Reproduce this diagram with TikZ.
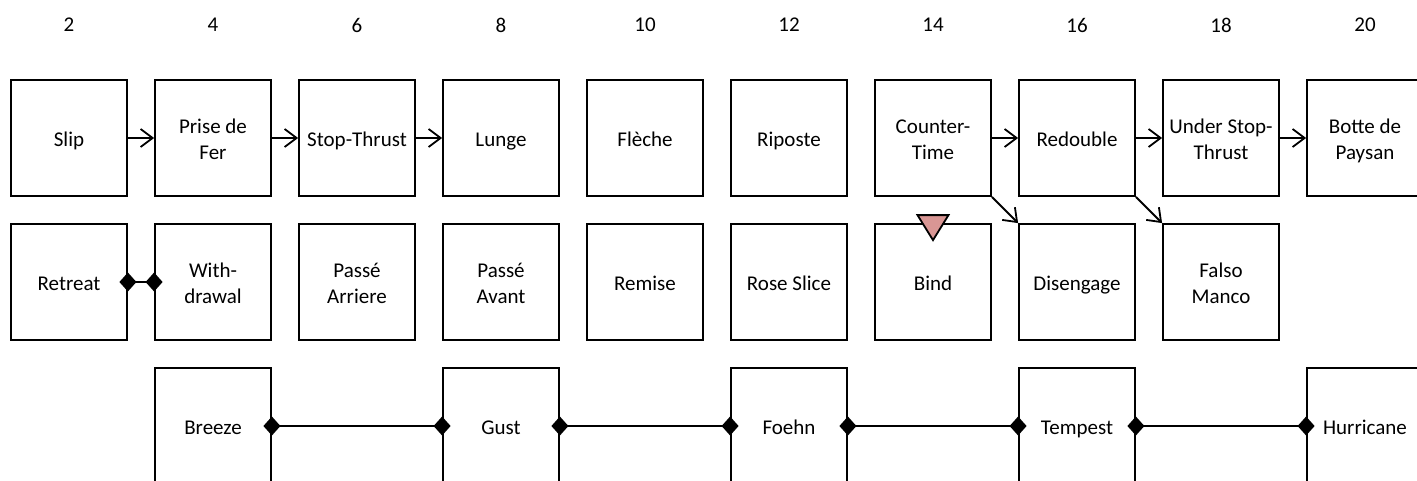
\documentclass[tikz,border=0pt]{standalone}
\usepackage{fontspec}
\setmainfont{Carlito}
\usetikzlibrary{arrows.meta}
\definecolor{tripink}{HTML}{D99694}
\newcommand{\tl}[1]{\rule[-4.5pt]{0pt}{25.5pt}#1}
\tikzset{
  box/.style={draw=black, line width=1.8pt, rectangle, minimum width=116pt, minimum height=116pt, inner sep=0pt, align=center, font=\fontsize{21}{25.5}\selectfont},
  num/.style={font=\fontsize{21}{25.5}\selectfont, inner sep=0pt},
  arr/.style={line width=1.8pt, -{Straight Barb[length=12pt,width=18pt,line width=1.8pt]}},
  dia/.style={line width=1.8pt, {Diamond[length=17pt,width=19pt]}-{Diamond[length=17pt,width=19pt]}, shorten <=-8.5pt, shorten >=-8.5pt},
}
\begin{document}
\begin{tikzpicture}[x=1pt,y=-1pt]
\useasboundingbox (0,0) rectangle (1417,480);
% column numbers
\foreach \i/\n in {1/2,2/4,3/6,4/8,5/10,6/12,7/14,8/16,9/18,10/20}
  \node[num] (n\n) at ({69+144*(\i-1)},25) {\n};
% row 1
\node[box] (slip) at (69,138) {\tl{Slip}};
\node[box] (prise) at (213,138) {\tl{Prise de}\\\tl{Fer}};
\node[box] (stop) at (357,138) {\tl{Stop-Thrust}};
\node[box] (lunge) at (501,138) {\tl{Lunge}};
\node[box] (fleche) at (645,138) {\tl{Flèche}};
\node[box] (riposte) at (789,138) {\tl{Riposte}};
\node[box] (counter) at (933,138) {\tl{Counter-}\\\tl{Time}};
\node[box] (redouble) at (1077,138) {\tl{Redouble}};
\node[box] (under) at (1221,138) {\tl{Under Stop-}\\\tl{Thrust}};
\node[box] (botte) at (1365,138) {\tl{Botte de}\\\tl{Paysan}};
% row 2
\node[box] (retreat) at (69,282) {\tl{Retreat}};
\node[box] (withdrawal) at (213,282) {\tl{With-}\\\tl{drawal}};
\node[box] (arriere) at (357,282) {\tl{Passé}\\\tl{Arriere}};
\node[box] (avant) at (501,282) {\tl{Passé}\\\tl{Avant}};
\node[box] (remise) at (645,282) {\tl{Remise}};
\node[box] (rose) at (789,282) {\tl{Rose Slice}};
\node[box] (bind) at (933,282) {\tl{Bind}};
\node[box] (disengage) at (1077,282) {\tl{Disengage}};
\node[box] (falso) at (1221,282) {\tl{Falso}\\\tl{Manco}};
% row 3
\node[box] (breeze) at (213,426) {\tl{Breeze}};
\node[box] (gust) at (501,426) {\tl{Gust}};
\node[box] (foehn) at (789,426) {\tl{Foehn}};
\node[box] (tempest) at (1077,426) {\tl{Tempest}};
\node[box] (hurricane) at (1365,426) {\tl{Hurricane}};
% arrows
\draw[arr] (slip) -- (prise);
\draw[arr] (prise) -- (stop);
\draw[arr] (stop) -- (lunge);
\draw[arr] (counter) -- (redouble);
\draw[arr] (redouble) -- (under);
\draw[arr] (under) -- (botte);
\draw[arr] (counter.south east) -- (disengage.north west);
\draw[arr] (redouble.south east) -- (falso.north west);
% diamond connectors
\draw[dia] (retreat) -- (withdrawal);
\draw[dia] (breeze) -- (gust);
\draw[dia] (gust) -- (foehn);
\draw[dia] (foehn) -- (tempest);
\draw[dia] (tempest) -- (hurricane);
% triangle marker on Bind
\draw[fill=tripink, line width=1.8pt, line join=miter, shift={(bind.north)}] (-15.5,-8) -- (15.5,-8) -- (0,17) -- cycle;
\end{tikzpicture}
\end{document}
